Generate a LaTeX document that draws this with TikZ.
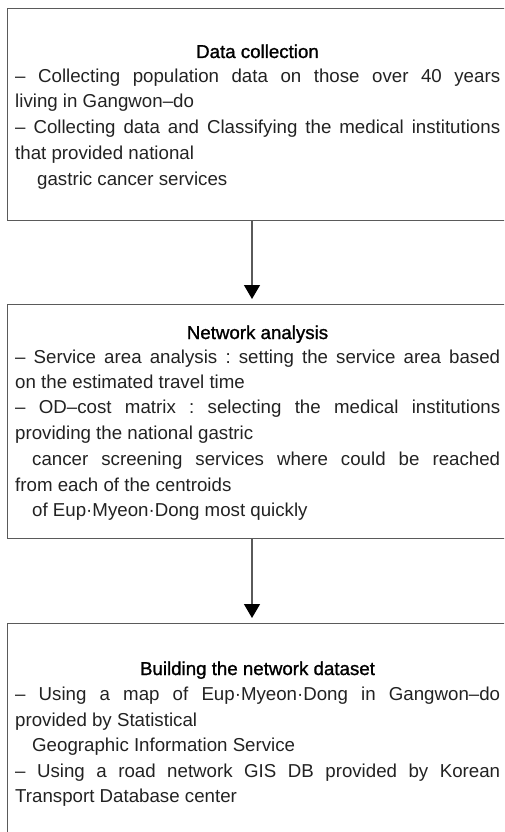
\documentclass[tikz,border=0pt]{standalone}
\usepackage{fontspec}
\setmainfont{Liberation Sans}
\newfontfamily\hdfont{Liberation Sans}[FakeBold=1.2]
\usetikzlibrary{arrows.meta}
\definecolor{boxgray}{HTML}{5A5A5A}
\definecolor{bodygray}{HTML}{222222}
\frenchspacing
\begin{document}
\frenchspacing
\begin{tikzpicture}[x=1pt,y=-1pt,
  box/.style={draw=boxgray, line width=1.3pt, anchor=north west, minimum width=540pt, inner sep=0pt},
  ln/.style={anchor=base west, inner sep=0pt, text=bodygray, font=\fontsize{18.7}{22}\selectfont\frenchspacing},
  hd/.style={anchor=base, inner sep=0pt, text=black, font=\hdfont\fontsize{18.7}{22}\selectfont},
  arr/.style={draw=boxgray, line width=1.3pt, -{Triangle[width=16pt,length=14pt,color=black]}}]
\useasboundingbox (0,0) rectangle (504,832);
\clip (0,0) rectangle (504,832);
% boxes
\node[box, minimum height=212pt] (b1) at (7,8) {};
\node[box, minimum height=234pt] (b2) at (7,304) {};
\node[box, minimum height=260pt] (b3) at (7,623) {};
% box 1 text
\node[hd] (h1) at (257.5,58) {Data collection};
\node[ln] (t11) at (15,83) {\makebox[485pt][s]{– Collecting population data on those over 40 years}};
\node[ln] (t12) at (15,108) {living in Gangwon–do};
\node[ln] (t13) at (15,133) {\makebox[485pt][s]{– Collecting data and Classifying the medical institutions}};
\node[ln] (t14) at (15,159) {that provided national};
\node[ln] (t15) at (37,185) {gastric cancer services};
% box 2 text
\node[hd] (h2) at (257.5,339) {Network analysis};
\node[ln] (t21) at (15,363) {\makebox[485pt][s]{– Service area analysis : setting the service area based}};
\node[ln] (t22) at (15,388) {on the estimated travel time};
\node[ln] (t23) at (15,413) {\makebox[485pt][s]{– OD–cost matrix : selecting the medical institutions}};
\node[ln] (t24) at (15,439) {providing the national gastric};
\node[ln] (t25) at (32,465) {\makebox[468pt][s]{cancer screening services where could be reached}};
\node[ln] (t26) at (15,491) {from each of the centroids};
\node[ln] (t27) at (32,516) {of Eup·Myeon·Dong most quickly};
% box 3 text
\node[hd] (h3) at (257.5,675) {Building the network dataset};
\node[ln] (t31) at (15,700) {\makebox[485pt][s]{– Using a map of Eup·Myeon·Dong in Gangwon–do}};
\node[ln] (t32) at (15,726) {provided by Statistical};
\node[ln] (t33) at (32,751) {Geographic Information Service};
\node[ln] (t34) at (15,777) {\makebox[485pt][s]{– Using a road network GIS DB provided by Korean}};
\node[ln] (t35) at (15,802) {Transport Database center};
% arrows
\draw[arr] ([xshift=245pt]b1.south west) -- ([xshift=245pt,yshift=5pt]b2.north west);
\draw[arr] ([xshift=245pt]b2.south west) -- ([xshift=245pt,yshift=5pt]b3.north west);
\end{tikzpicture}
\end{document}
